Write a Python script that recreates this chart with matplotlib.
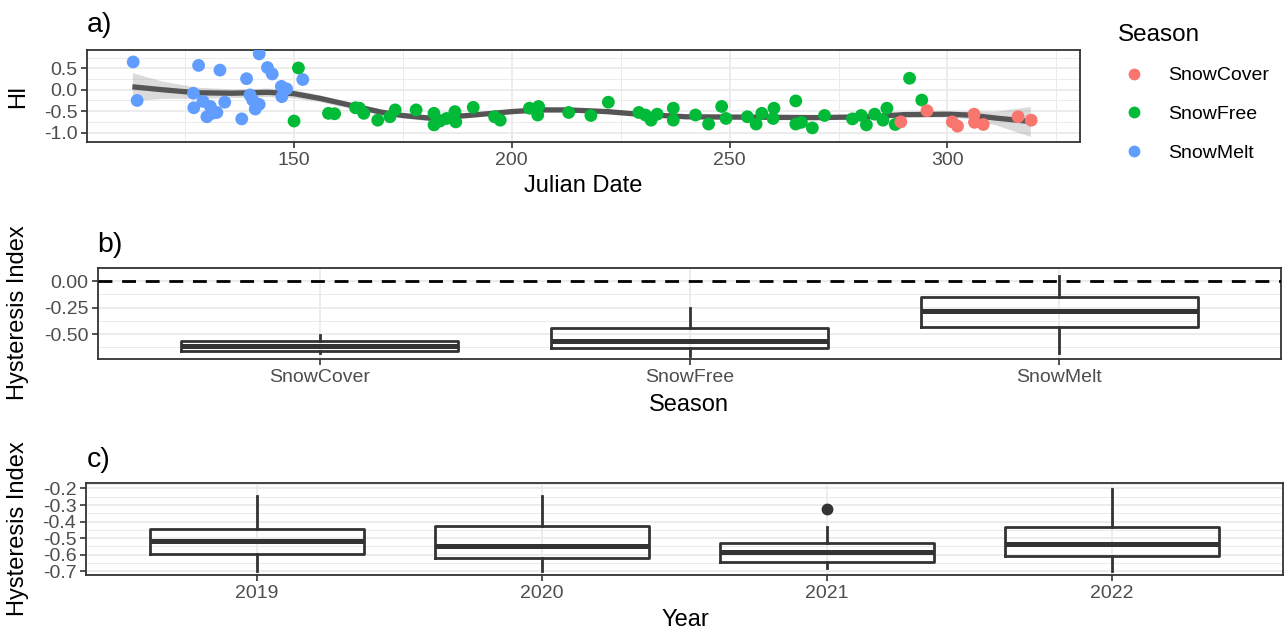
import matplotlib
matplotlib.use("Agg")
from matplotlib import pyplot as plt
from matplotlib.lines import Line2D

# ---- data ----
melt_day = [113.2, 114.1, 127.0, 127.1, 128.2, 129.2, 130.1, 130.9, 131.3, 132.4, 133.1, 134.2, 138.1,
            139.2, 140.0, 140.6, 141.2, 142.1, 142.1, 144.0, 145.1, 147.2, 147.3, 148.4, 152.1]
melt_hi = [0.65, -0.25, -0.08, -0.42, 0.57, -0.27, -0.63, -0.39, -0.55, -0.53, 0.46, -0.29, -0.68,
           0.26, -0.12, -0.24, -0.45, -0.34, 0.84, 0.52, 0.37, 0.08, -0.16, 0.02, 0.24]

free_day = [150.1, 151.1, 158.0, 159.4, 164.2, 165.1, 166.1, 169.3, 172.1, 173.3, 178.1, 182.2, 182.2,
            183.6, 185.1, 187.0, 187.2, 191.2, 196.1, 197.4, 204.1, 206.2, 206.0, 213.1, 218.2, 222.2,
            229.2, 230.7, 232.0, 233.4, 237.1, 237.1, 242.2, 245.2, 248.2, 249.2, 254.1, 256.1, 257.4,
            260.2, 260.0, 265.2, 265.2, 266.5, 269.0, 271.8, 278.2, 280.2, 281.4, 283.3, 285.2, 286.1,
            288.0, 291.3, 294.1]
free_hi = [-0.73, 0.51, -0.55, -0.56, -0.42, -0.43, -0.55, -0.71, -0.63, -0.47, -0.47, -0.55, -0.82,
           -0.73, -0.67, -0.51, -0.75, -0.41, -0.63, -0.71, -0.43, -0.39, -0.59, -0.53, -0.60, -0.29,
           -0.53, -0.59, -0.71, -0.57, -0.43, -0.71, -0.59, -0.80, -0.39, -0.67, -0.63, -0.80, -0.55,
           -0.43, -0.67, -0.26, -0.80, -0.76, -0.89, -0.60, -0.68, -0.60, -0.82, -0.57, -0.71, -0.43,
           -0.81, 0.27, -0.24]

cover_day = [289.3, 295.3, 301.1, 302.3, 306.1, 306.2, 308.2, 316.2, 319.2]
cover_hi = [-0.75, -0.49, -0.75, -0.85, -0.57, -0.76, -0.81, -0.63, -0.71]

# loess smooth as drawn (centre line and half width of the ribbon)
smooth_day = [113, 120, 128, 136, 144, 150, 156, 163, 170, 175, 181, 190, 200, 206, 213, 222, 229,
              240, 255, 270, 282, 290, 300, 305, 311, 319]
smooth_hi = [0.07, 0.0, -0.07, -0.08, -0.06, -0.09, -0.2, -0.36, -0.52, -0.6, -0.66, -0.6, -0.51,
             -0.47, -0.47, -0.51, -0.57, -0.63, -0.64, -0.65, -0.63, -0.58, -0.57, -0.59, -0.66, -0.74]
smooth_se = [0.33, 0.2, 0.13, 0.1, 0.1, 0.1, 0.08, 0.07, 0.07, 0.06, 0.06, 0.05, 0.05, 0.05, 0.05,
             0.05, 0.05, 0.05, 0.05, 0.05, 0.06, 0.06, 0.07, 0.09, 0.16, 0.35]

seasons = ["SnowCover", "SnowFree", "SnowMelt"]
season_colors = ["#F8766D", "#00BA38", "#619CFF"]
season_whislo = [-0.68, -0.71, -0.68]
season_q1 = [-0.657, -0.635, -0.43]
season_med = [-0.61, -0.563, -0.28]
season_q3 = [-0.566, -0.447, -0.148]
season_whishi = [-0.51, -0.25, 0.05]

years = ["2019", "2020", "2021", "2022"]
year_whislo = [-0.70, -0.70, -0.68, -0.70]
year_q1 = [-0.598, -0.62, -0.646, -0.606]
year_med = [-0.516, -0.546, -0.582, -0.536]
year_q3 = [-0.444, -0.426, -0.526, -0.43]
year_whishi = [-0.246, -0.246, -0.434, -0.204]
year_fliers = [[], [], [-0.326], []]

# ---- style ----
plt.rcParams['font.family'] = ['Liberation Sans', 'DejaVu Sans']
plt.rcParams['axes.unicode_minus'] = False

W, H = 1287, 632
BORDER = "#333333"
GRID = "#EBEBEB"
TICKTXT = "#4D4D4D"

fig = plt.figure(figsize=(W / 100, H / 100), dpi=100)


def px_axes(left, top, right, bottom):
    return fig.add_axes([left / W, 1 - bottom / H, (right - left) / W, (bottom - top) / H])


def style_axes(ax):
    ax.set_axisbelow(True)
    for s in ax.spines.values():
        s.set_color(BORDER)
        s.set_linewidth(1.3)
    ax.tick_params(which='major', labelsize=14, labelcolor=TICKTXT, color=BORDER,
                   length=4, width=1.2, pad=3)
    ax.tick_params(which='minor', length=0)
    ax.grid(True, which='major', color=GRID, linewidth=1.3)
    ax.grid(True, which='minor', color=GRID, linewidth=0.7)


# ---- a) ----
ax1 = px_axes(87, 50, 1080, 142)
style_axes(ax1)
ax1.set_xlim(102.6, 330.4)
ax1.set_ylim(-1.22, 0.93)
ax1.set_xticks([150, 200, 250, 300])
ax1.set_xticks([125, 175, 225, 275, 325], minor=True)
ax1.set_yticks([-1.0, -0.5, 0.0, 0.5])
ax1.set_yticklabels(["-1.0", "-0.5", "0.0", "0.5"])
ax1.set_yticks([-0.75, -0.25, 0.25, 0.75], minor=True)

lo = [m - s for m, s in zip(smooth_hi, smooth_se)]
hi = [m + s for m, s in zip(smooth_hi, smooth_se)]
ax1.fill_between(smooth_day, lo, hi, color="#999999", alpha=0.35, linewidth=0, zorder=2)
ax1.plot(smooth_day, smooth_hi, color="#555555", linewidth=3.8, solid_capstyle='butt', zorder=3)

for day, val, col in [(melt_day, melt_hi, season_colors[2]),
                      (free_day, free_hi, season_colors[1]),
                      (cover_day, cover_hi, season_colors[0])]:
    ax1.scatter(day, val, s=85, color=col, edgecolors='none', zorder=4)

handles = [Line2D([], [], linestyle='none', marker='o', markersize=8.5, color=c,
                  markeredgewidth=0) for c in season_colors]
fig.legend(handles, seasons, loc='upper left', bbox_to_anchor=(1112 / W, 1 - 18 / H),
           frameon=False, title="Season", title_fontsize=17.5, fontsize=14,
           alignment='left', handlelength=1.7, handletextpad=0.9, labelspacing=1.08,
           borderaxespad=0, borderpad=0.3)

# ---- b) ----
ax2 = px_axes(98, 268, 1281, 359)
style_axes(ax2)
ax2.set_xlim(0.4, 3.6)
ax2.set_ylim(-0.736, 0.125)
ax2.set_yticks([-0.5, -0.25, 0.0])
ax2.set_yticklabels(["-0.50", "-0.25", "0.00"])
ax2.set_yticks([-0.625, -0.375, -0.125, 0.125], minor=True)
ax2.grid(False, axis='x', which='minor')

box_kw = dict(widths=0.75, showcaps=False, patch_artist=False,
              boxprops=dict(color=BORDER, linewidth=2.0),
              whiskerprops=dict(color=BORDER, linewidth=2.0),
              medianprops=dict(color=BORDER, linewidth=3.6),
              flierprops=dict(marker='o', markerfacecolor=BORDER, markeredgecolor=BORDER,
                              markersize=7.5))

stats_b = []
for i, name in enumerate(seasons):
    stats_b.append(dict(label=name, whislo=season_whislo[i], q1=season_q1[i], med=season_med[i],
                        q3=season_q3[i], whishi=season_whishi[i], fliers=[]))
ax2.bxp(stats_b, positions=[1, 2, 3], **box_kw)
ax2.axhline(0, color="black", linewidth=2.0, linestyle=(0, (5, 3.5)), zorder=3)
ax2.set_xticks([1, 2, 3])
ax2.set_xticklabels(seasons)

# ---- c) ----
ax3 = px_axes(86, 483, 1283, 575)
style_axes(ax3)
ax3.set_xlim(0.4, 4.6)
ax3.set_ylim(-0.722, -0.167)
yt = [-0.7, -0.6, -0.5, -0.4, -0.3, -0.2]
ax3.set_yticks(yt)
ax3.set_yticklabels(["%.1f" % v for v in yt])
ax3.set_yticks([-0.65, -0.55, -0.45, -0.35, -0.25, -0.175], minor=True)

stats_c = []
for i, name in enumerate(years):
    stats_c.append(dict(label=name, whislo=year_whislo[i], q1=year_q1[i], med=year_med[i],
                        q3=year_q3[i], whishi=year_whishi[i], fliers=year_fliers[i]))
ax3.bxp(stats_c, positions=[1, 2, 3, 4], **box_kw)
ax3.set_xticks([1, 2, 3, 4])
ax3.set_xticklabels(years)

# ---- titles / tags ----
def ftext(x, y, s, **kw):
    fig.text(x / W, 1 - y / H, s, **kw)


ftext(87, 32, "a)", fontsize=20.5, ha='left', va='baseline')
ftext(97, 252, "b)", fontsize=20.5, ha='left', va='baseline')
ftext(87, 467, "c)", fontsize=20.5, ha='left', va='baseline')

ftext(583, 186, "Julian Date", fontsize=17, ha='center', va='center')
ftext(689, 405, "Season", fontsize=17, ha='center', va='center')
ftext(685, 620, "Year", fontsize=17, ha='center', va='center')

ftext(18, 96, "HI", fontsize=17, ha='center', va='center', rotation=90)
ftext(18, 313, "Hysteresis Index", fontsize=17, ha='center', va='center', rotation=90)
ftext(18, 529, "Hysteresis Index", fontsize=17, ha='center', va='center', rotation=90)

fig.savefig("out.png", dpi=100)
